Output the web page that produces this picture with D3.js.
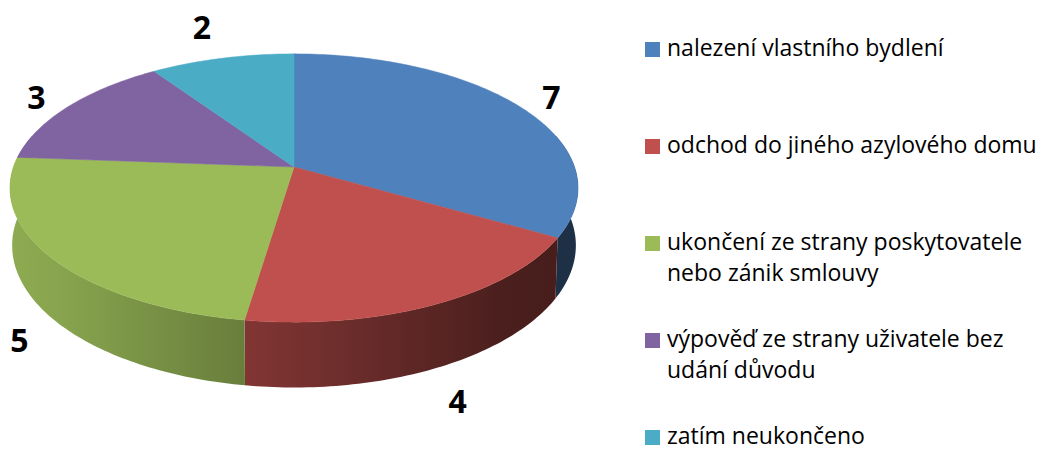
<!DOCTYPE html>
<html>
<head>
<meta charset="utf-8">
<script src="https://cdn.jsdelivr.net/npm/d3@7"></script>
<style>
  body { margin: 0; background: #fff; }
  svg { display: block; }
  .lbl { font-family: "Open Sans", sans-serif; font-weight: bold; font-size: 32px; fill: #000; }
  .leg { font-family: "Open Sans", sans-serif; font-size: 23px; fill: #000; }
</style>
</head>
<body>
<div id="graphicContainer"></div>
<script>
// data
var categories = [
  "nalezení vlastního bydlení",
  "odchod do jiného azylového domu",
  "ukončení ze strany poskytovatele nebo zánik smlouvy",
  "výpověď ze strany uživatele bez udání důvodu",
  "zatím neukončeno"
]
var values = [7, 4, 5, 3, 2]
var colors = ["#4f81bd", "#c0504d", "#9bbb59", "#8064a2", "#4bacc6"]

var width = 1045, height = 450

var svg = d3.select("#graphicContainer").append("svg")
  .attr("width", width)
  .attr("height", height)

// perspective "camera" for the 3d pie
var cx = 294, cy = 167
var tilt = 27.8 * Math.PI / 180
var camDist = 1, radius = 0.177, thick = 0.0405, focal = 1585

function proj(theta, s, h) {
  var x3 = s * radius * Math.sin(theta)
  var d = -s * radius * Math.cos(theta)
  var y = -h
  // height barely changes the distance, keeps the side walls near upright
  var dist = camDist - (0.4 * y * Math.sin(tilt) + d * Math.cos(tilt))
  var up = y * Math.cos(tilt) - d * Math.sin(tilt)
  return [cx + focal * x3 / dist, cy - focal * up / dist]
}

var pie = d3.pie().sort(null).startAngle(0).endAngle(2 * Math.PI)
var arcs = pie(values)

var line = d3.line()
var step = Math.PI / 180

function arcPoints(a0, a1, h) {
  var n = Math.max(2, Math.ceil(Math.abs(a1 - a0) / step))
  return d3.range(n + 1).map(function (i) {
    return proj(a0 + (a1 - a0) * i / n, 1, h)
  })
}

// side shading goes dark from left to right
var shade = d3.scaleLinear().domain([20, 520]).range([0.92, 0.37]).clamp(true)
var defs = svg.append("defs")
colors.forEach(function (c, i) {
  var g = defs.append("linearGradient")
    .attr("id", "side" + i)
    .attr("gradientUnits", "userSpaceOnUse")
    .attr("x1", 0).attr("x2", 600).attr("y1", 0).attr("y2", 0)
  var base = d3.rgb(c)
  d3.range(0, 601, 50).forEach(function (x) {
    var f = shade(x)
    g.append("stop")
      .attr("offset", x / 600)
      .attr("stop-color", d3.rgb(base.r * f, base.g * f, base.b * f))
  })
})

// visible part of the outer wall: the front half, a bit wider
var visLo = Math.PI / 2 - 0.25, visHi = 3 * Math.PI / 2 + 0.25

var walls = svg.append("g")
arcs.forEach(function (a, i) {
  var a0 = Math.max(a.startAngle, visLo)
  var a1 = Math.min(a.endAngle, visHi)
  if (a1 <= a0) return
  var pts = arcPoints(a0, a1, 0).concat(arcPoints(a1, a0, thick))
  walls.append("path")
    .attr("d", line(pts) + "Z")
    .attr("fill", "url(#side" + i + ")")
})

// top faces
var tops = svg.append("g")
tops.selectAll("path")
  .data(arcs)
  .enter().append("path")
  .attr("d", function (a) {
    var pts = [proj(0, 0, 0)].concat(arcPoints(a.startAngle, a.endAngle, 0))
    return line(pts) + "Z"
  })
  .attr("fill", function (a, i) { return colors[i] })
  .attr("stroke", function (a, i) { return colors[i] })
  .attr("stroke-width", 0.5)

// value labels outside the pie
svg.append("g").selectAll("text")
  .data(arcs)
  .enter().append("text")
  .attr("class", "lbl")
  .attr("text-anchor", "middle")
  .attr("dy", "0.36em")
  .each(function (a) {
    var tm = (a.startAngle + a.endAngle) / 2
    var front = -Math.cos(tm) > 0
    var gap = front ? 26 : 22
    var p = proj(tm, 1, front ? thick : 0)
    var dx = p[0] - cx, dy = p[1] - cy
    var len = Math.sqrt(dx * dx + dy * dy)
    var ux = dx / len, uy = dy / len
    var ext = 8.5 * Math.abs(ux) + 12 * Math.abs(uy)
    d3.select(this)
      .attr("x", p[0] + ux * (gap + ext))
      .attr("y", p[1] + uy * (gap + ext))
      .text(a.data)
  })

// legend
var legX = 645, legTop = 42, legStep = 97, lineH = 31, maxW = 380
var ly = d3.scaleLinear().domain([0, 1]).range([legTop, legTop + legStep])

var leg = svg.append("g")
categories.forEach(function (name, i) {
  var y0 = ly(i)
  leg.append("rect")
    .attr("x", legX).attr("y", y0)
    .attr("width", 15).attr("height", 15)
    .attr("fill", colors[i])

  var base = y0 + 14
  var text = leg.append("text").attr("class", "leg")
    .attr("x", legX + 22).attr("y", base)
  var words = name.split(" ")
  var lineNo = 0
  var tspan = text.append("tspan").attr("x", legX + 22).attr("y", base)
  var cur = []
  words.forEach(function (w) {
    cur.push(w)
    tspan.text(cur.join(" "))
    if (tspan.node().getComputedTextLength() > maxW && cur.length > 1) {
      cur.pop()
      tspan.text(cur.join(" "))
      cur = [w]
      lineNo++
      tspan = text.append("tspan").attr("x", legX + 22).attr("y", base + lineNo * lineH).text(w)
    }
  })
})
</script>
</body>
</html>
